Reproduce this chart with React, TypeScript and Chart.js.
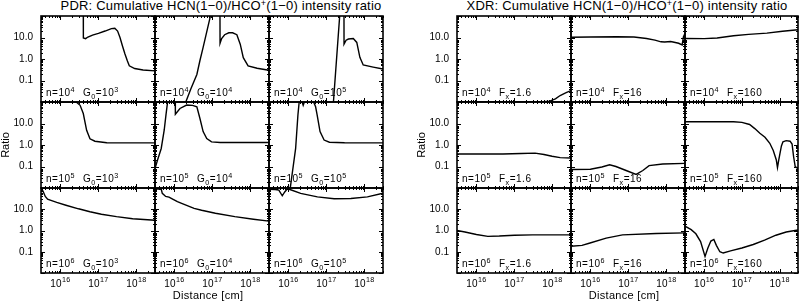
import React, { useEffect, useRef } from 'react';
import { Chart, registerables } from 'chart.js';

Chart.register(...registerables);

type Pt = [number, number];

// ---------- Data (distance [cm], ratio) ----------
// PDR models
const pdr_n4_g3: Pt[] = [
  [4.0e16, 300], [4.02e16, 9.5], [4.6e16, 8.8], [5.3e16, 10.5], [7e16, 13], [1e17, 15.5],
  [1.5e17, 20], [2.2e17, 26], [2.7e17, 27], [3.2e17, 20], [3.7e17, 10], [4.3e17, 4],
  [5.0e17, 1.7], [5.8e17, 0.8], [6.5e17, 0.48], [9e17, 0.36], [1.5e18, 0.31], [3.086e18, 0.28],
];
const pdr_n4_g4: Pt[] = [
  [1.75e16, 0.005], [1.9e16, 0.008], [2.7e16, 0.04], [3.9e16, 0.19], [4.7e16, 0.85],
  [5.7e16, 3.5], [8.7e16, 87], [1.0e17, 300], [1.58e17, 300], [1.59e17, 5.4], [1.75e17, 9],
  [2.1e17, 13.5], [2.7e17, 16.5], [3.4e17, 16.5], [4.4e17, 13.5], [5.4e17, 4.9],
  [6.5e17, 1.15], [8.7e17, 0.48], [1.5e18, 0.37], [3.086e18, 0.3],
];
const pdr_n4_g5: Pt[] = [
  [1.5e17, 0.006], [2.3e17, 200], [2.9e17, 200], [2.91e17, 4.9], [3.3e17, 7.5],
  [3.8e17, 8.5], [5.1e17, 9], [6.3e17, 5.9], [7.6e17, 1.2], [9.3e17, 0.53],
  [1.7e18, 0.42], [3.086e18, 0.34],
];
const pdr_n5_g3: Pt[] = [
  [3.086e15, 100], [2.6e16, 100], [3.3e16, 70], [4.0e16, 29], [4.9e16, 4.8],
  [6.0e16, 1.95], [8.1e16, 1.5], [1.66e17, 1.27], [3.086e18, 1.25],
];
const pdr_n5_g4: Pt[] = [
  [3.086e15, 0.08], [3.6e15, 0.2], [4.5e15, 0.69], [5.4e15, 5], [6.0e15, 25], [6.7e15, 120],
  [8e15, 300], [1.05e16, 300], [1.06e16, 27], [1.4e16, 50], [2.1e16, 72], [3.0e16, 70],
  [3.9e16, 60], [4.7e16, 17], [5.7e16, 4.2], [7.1e16, 2], [9.5e16, 1.4], [1.6e17, 1.3],
  [3.086e18, 1.3],
];
const pdr_n5_g5: Pt[] = [
  [1.1e16, 0.008], [1.55e16, 0.69], [1.78e16, 25], [1.92e16, 100], [2.3e16, 100],
  [2.45e16, 70], [2.6e16, 95], [2.8e16, 100], [4.6e16, 100], [5.2e16, 60], [5.7e16, 25],
  [6.8e16, 4.2], [8.7e16, 1.7], [1.2e17, 1.35], [3e17, 1.27], [3.086e18, 1.25],
];
const pdr_n6_g3: Pt[] = [
  [3.086e15, 100], [3.5e15, 70], [4.0e15, 40], [4.6e15, 30], [5.4e15, 27], [8e15, 21],
  [1.4e16, 15.5], [3e16, 10.5], [6e16, 7.6], [1.2e17, 5.8], [3e17, 4.5], [8e17, 3.6],
  [3.086e18, 3.05],
];
const pdr_n6_g4: Pt[] = [
  [3.086e15, 92], [4.5e15, 88], [4.8e15, 56], [5.9e15, 40], [7.2e15, 37], [9e15, 30],
  [1.2e16, 23], [1.55e16, 19], [3.3e16, 11], [5.2e16, 9], [1.2e17, 6.5], [3.9e17, 4.5],
  [1.2e18, 3.4], [3.086e18, 2.75],
];
const pdr_n6_g5: Pt[] = [
  [3.086e15, 88], [4.5e15, 85], [5.6e15, 80], [6.9e15, 43], [8e15, 65], [9.3e15, 90],
  [1.1e16, 85], [2.1e16, 56], [5.8e16, 38], [1.6e17, 31], [4.4e17, 32], [1.2e18, 38],
  [3.086e18, 57],
];

// XDR models
const xdr_n4_f1: Pt[] = [
  [3.086e15, 0.0102], [6e17, 0.0102], [8.5e17, 0.011], [1.2e18, 0.014], [1.6e18, 0.02],
  [2.3e18, 0.027], [3.086e18, 0.034],
];
const xdr_n4_f2: Pt[] = [
  [3.086e15, 10.3], [1e16, 10.5], [5e16, 10.8], [1.4e17, 10.5], [3e17, 9], [5e17, 7.5],
  [7.2e17, 6.3], [9e17, 6.2], [1.3e18, 6.5], [2.1e18, 5.4], [2.6e18, 4.5], [2.8e18, 10.6],
  [3.086e18, 15.5],
];
const xdr_n4_f3: Pt[] = [
  [3.086e15, 9], [1e16, 8.9], [2.2e16, 9.5], [6e16, 12], [1.5e17, 14], [4.6e17, 16],
  [1.2e18, 19.5], [3.086e18, 23],
];
const xdr_n5_f1: Pt[] = [
  [3.086e15, 0.38], [5e16, 0.38], [1.5e17, 0.4], [3.5e17, 0.42], [6e17, 0.36],
  [9.8e17, 0.3], [1.6e18, 0.26], [3.086e18, 0.25],
];
const xdr_n5_f2: Pt[] = [
  [3.086e15, 0.072], [1e16, 0.075], [2e16, 0.095], [3.2e16, 0.12], [4.7e16, 0.1],
  [8.7e16, 0.065], [1.6e17, 0.043], [2.4e17, 0.065], [3.5e17, 0.11], [8e17, 0.13],
  [3.086e18, 0.14],
];
const xdr_n5_f3: Pt[] = [
  [3.086e15, 12], [2e16, 12], [6e16, 12], [1e17, 11.3], [1.6e17, 9], [2.2e17, 5.8],
  [3e17, 3.5], [4.1e17, 2.3], [5.5e17, 1.2], [6.8e17, 0.56], [8.2e17, 0.2], [8.8e17, 0.09],
  [9.5e17, 0.2], [1.02e18, 0.39], [1.12e18, 0.9], [1.23e18, 1.4], [1.5e18, 1.6],
  [1.9e18, 1.5], [2.15e18, 1.1], [2.35e18, 0.3], [2.6e18, 0.1], [3.086e18, 0.08],
];
const xdr_n6_f1: Pt[] = [
  [3.086e15, 1.0], [5e15, 0.85], [1e16, 0.65], [2e16, 0.53], [4e16, 0.55], [1e17, 0.6],
  [3e17, 0.62], [3.086e18, 0.62],
];
const xdr_n6_f2: Pt[] = [
  [3.086e15, 0.18], [6e15, 0.2], [9.3e15, 0.25], [2.6e16, 0.44], [7e16, 0.62],
  [5.4e17, 0.72], [3.086e18, 0.77],
];
const xdr_n6_f3: Pt[] = [
  [3.086e15, 1.6], [4.5e15, 1.1], [6e15, 0.7], [8e15, 0.3], [1.05e16, 0.06], [1.25e16, 0.15],
  [1.5e16, 0.32], [1.8e16, 0.38], [2.1e16, 0.2], [2.6e16, 0.1], [3.2e16, 0.087],
  [5e16, 0.11], [1e17, 0.15], [2e17, 0.22], [4e17, 0.35], [8e17, 0.6], [1.5e18, 0.85],
  [3.086e18, 1.05],
];

// ---------- Labels / ticks ----------
const densityExp = ['4', '5', '6'];
const pdrG0Exp = ['3', '4', '5'];
const xdrFx = ['1.6', '16', '160'];
const yTickValues = [0.1, 1, 10];
const xTickDecades = [16, 17, 18];
const X_MIN = 3.086e15;
const X_MAX = 3.086e18;
const Y_MIN = 0.01;
const Y_MAX = 100;

const gridSeries: Pt[][][][] = [
  [
    [pdr_n4_g3, pdr_n4_g4, pdr_n4_g5],
    [pdr_n5_g3, pdr_n5_g4, pdr_n5_g5],
    [pdr_n6_g3, pdr_n6_g4, pdr_n6_g5],
  ],
  [
    [xdr_n4_f1, xdr_n4_f2, xdr_n4_f3],
    [xdr_n5_f1, xdr_n5_f2, xdr_n5_f3],
    [xdr_n6_f1, xdr_n6_f2, xdr_n6_f3],
  ],
];

// ---------- Layout ----------
const COL_LEFTS = [
  [41, 155, 269, 383],
  [457, 571, 685, 798],
];
const ROW_TOPS = [16, 102, 188, 273];
const FONT = '"Liberation Sans", Arial, Helvetica, sans-serif';
Chart.defaults.font.family = FONT;

type Part = { t: string; s?: 'sup' | 'sub' };

function drawRich(
  ctx: CanvasRenderingContext2D,
  x: number,
  y: number,
  parts: Part[],
  size: number,
  align: 'left' | 'center',
  spacing: number,
) {
  const small = size * 0.72;
  (ctx as any).letterSpacing = `${spacing}px`;
  const widths = parts.map((p) => {
    ctx.font = `${p.s ? small : size}px ${FONT}`;
    return ctx.measureText(p.t).width;
  });
  const total = widths.reduce((a, b) => a + b, 0);
  let cx = align === 'center' ? x - total / 2 : x;
  parts.forEach((p, i) => {
    ctx.font = `${p.s ? small : size}px ${FONT}`;
    const dy = p.s === 'sup' ? -size * 0.42 : p.s === 'sub' ? size * 0.25 : 0;
    ctx.fillText(p.t, cx, y + dy);
    cx += widths[i];
  });
  (ctx as any).letterSpacing = '0px';
}

function zeroPad(s: any) {
  s.paddingTop = 0;
  s.paddingBottom = 0;
  s.paddingLeft = 0;
  s.paddingRight = 0;
}

function Panel({ g, r, c }: { g: number; r: number; c: number }) {
  const ref = useRef<HTMLCanvasElement>(null);
  const left = COL_LEFTS[g][c];
  const w = COL_LEFTS[g][c + 1] - left;
  const top = ROW_TOPS[r];
  const h = ROW_TOPS[r + 1] - top;
  const padL = c === 0 ? 40 : 2;
  const padB = r === 2 ? 28 : 2;
  const cw = w + padL + 2;
  const ch = h + 2 + padB;

  useEffect(() => {
    const pts = gridSeries[g][r][c];
    const label1: Part[] = [{ t: 'n=10' }, { t: densityExp[r], s: 'sup' }];
    const label2: Part[] =
      g === 0
        ? [{ t: 'G' }, { t: '0', s: 'sub' }, { t: '=10' }, { t: pdrG0Exp[c], s: 'sup' }]
        : [{ t: 'F' }, { t: 'x', s: 'sub' }, { t: '=' + xdrFx[c] }];

    const frame = {
      id: 'frame',
      afterDraw(chart: any) {
        const ctx: CanvasRenderingContext2D = chart.ctx;
        const a = chart.chartArea;
        const xs = chart.scales.x;
        const ys = chart.scales.y;
        ctx.save();
        ctx.strokeStyle = '#000';
        ctx.lineWidth = 1;
        ctx.beginPath();
        for (let d = 15; d <= 18; d++) {
          for (let m = 1; m <= 9; m++) {
            const v = m * Math.pow(10, d);
            if (v < X_MIN || v > X_MAX) continue;
            const px = Math.round(xs.getPixelForValue(v)) + 0.5;
            const len = m === 1 ? 4 : 2;
            ctx.moveTo(px, a.bottom);
            ctx.lineTo(px, a.bottom - len);
            ctx.moveTo(px, a.top);
            ctx.lineTo(px, a.top + len);
          }
        }
        for (let d = -2; d <= 2; d++) {
          for (let m = 1; m <= 9; m++) {
            const v = m * Math.pow(10, d);
            if (v < Y_MIN || v > Y_MAX) continue;
            const py = Math.round(ys.getPixelForValue(v)) + 0.5;
            const len = m === 1 ? 4 : 2;
            ctx.moveTo(a.left, py);
            ctx.lineTo(a.left + len, py);
            ctx.moveTo(a.right, py);
            ctx.lineTo(a.right - len, py);
          }
        }
        ctx.stroke();
        ctx.lineWidth = 1.6;
        ctx.strokeRect(a.left, a.top, a.right - a.left, a.bottom - a.top);

        ctx.fillStyle = '#000';
        ctx.textBaseline = 'alphabetic';
        ctx.textAlign = 'left';
        drawRich(ctx, a.left + 5, a.bottom - 6, label1, 10, 'left', 0.5);
        drawRich(ctx, a.left + 42, a.bottom - 6, label2, 10, 'left', 0.5);

        if (r === 2) {
          xTickDecades.forEach((d) => {
            const px = xs.getPixelForValue(Math.pow(10, d));
            drawRich(ctx, px, a.bottom + 13.5, [{ t: '10' }, { t: String(d), s: 'sup' }], 10, 'center', 0.3);
          });
        }
        ctx.restore();
      },
    };

    const chart = new Chart(ref.current as HTMLCanvasElement, {
      type: 'line',
      data: {
        datasets: [
          {
            data: pts.map(([x, y]) => ({ x, y })),
            borderColor: '#000',
            borderWidth: 1.4,
            pointRadius: 0,
            tension: 0,
            fill: false,
          },
        ],
      },
      options: {
        animation: false,
        responsive: false,
        devicePixelRatio: 1,
        events: [],
        layout: { autoPadding: false, padding: { left: c === 0 ? 0 : 2, right: 2, top: 2, bottom: r === 2 ? 0 : 2 } },
        plugins: { legend: { display: false }, tooltip: { enabled: false }, title: { display: false } },
        scales: {
          x: {
            type: 'logarithmic',
            min: X_MIN,
            max: X_MAX,
            grid: { display: false, drawTicks: false },
            border: { display: false },
            ticks: { display: false },
            afterFit: (s: any) => {
              s.height = r === 2 ? 28 : 0;
              zeroPad(s);
            },
          },
          y: {
            type: 'logarithmic',
            min: Y_MIN,
            max: Y_MAX,
            grid: { display: false, drawTicks: false },
            border: { display: false },
            ticks: {
              display: c === 0,
              padding: 8,
              autoSkip: false,
              color: '#000',
              font: { size: 10, family: FONT },
              callback: (v: any) => Number(v).toFixed(1),
            },
            afterBuildTicks: (s: any) => {
              s.ticks = yTickValues.map((v) => ({ value: v }));
            },
            afterFit: (s: any) => {
              s.width = c === 0 ? 40 : 0;
              zeroPad(s);
            },
          },
        },
      } as any,
      plugins: [frame],
    });
    return () => chart.destroy();
  }, []);

  return (
    <canvas
      ref={ref}
      width={cw}
      height={ch}
      style={{ position: 'absolute', left: left - padL, top: top - 2, width: cw, height: ch }}
    />
  );
}

const textBase: React.CSSProperties = {
  position: 'absolute',
  fontFamily: FONT,
  color: '#000',
  whiteSpace: 'nowrap',
  lineHeight: '12px',
};

function Title({ cx, prefix }: { cx: number; prefix: string }) {
  return (
    <div style={{ ...textBase, left: cx - 200, width: 400, top: 0, textAlign: 'center', fontSize: 13, letterSpacing: '0.2px' }}>
      {prefix}: Cumulative HCN(1−0)/HCO
      <span style={{ fontSize: 9, position: 'relative', top: -4 }}>+</span>
      (1−0) intensity ratio
    </div>
  );
}

export default function App() {
  const panels: JSX.Element[] = [];
  for (let g = 0; g < 2; g++)
    for (let r = 0; r < 3; r++)
      for (let c = 0; c < 3; c++) panels.push(<Panel key={`${g}-${r}-${c}`} g={g} r={r} c={c} />);
  return (
    <div style={{ position: 'fixed', left: 0, top: 0, width: 799, height: 303, background: '#fff', overflow: 'hidden' }}>
      {panels}
      <Title cx={221} prefix="PDR" />
      <Title cx={627} prefix="XDR" />
      <div style={{ ...textBase, left: 158, width: 100, top: 289, textAlign: 'center', fontSize: 11, letterSpacing: '0.3px' }}>Distance [cm]</div>
      <div style={{ ...textBase, left: 574, width: 100, top: 289, textAlign: 'center', fontSize: 11, letterSpacing: '0.3px' }}>Distance [cm]</div>
      <div style={{ ...textBase, left: 5 - 20, top: 145 - 6, width: 40, textAlign: 'center', fontSize: 11, transform: 'rotate(-90deg)' }}>Ratio</div>
      <div style={{ ...textBase, left: 421 - 20, top: 145 - 6, width: 40, textAlign: 'center', fontSize: 11, transform: 'rotate(-90deg)' }}>Ratio</div>
    </div>
  );
}
